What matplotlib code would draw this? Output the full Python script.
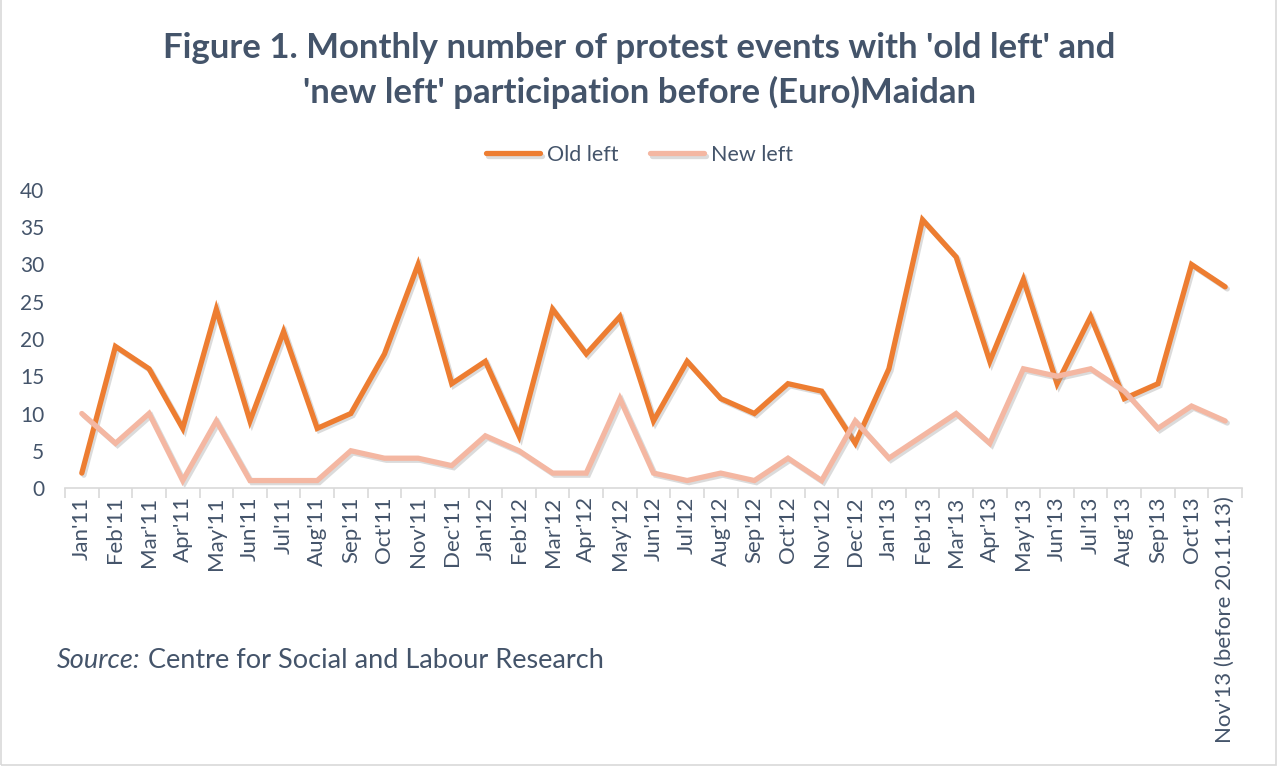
import numpy as np
import matplotlib.pyplot as plt
import matplotlib.patheffects as pe

months = ["Jan'11", "Feb'11", "Mar'11", "Apr'11", "May'11", "Jun'11", "Jul'11", "Aug'11",
          "Sep'11", "Oct'11", "Nov'11", "Dec'11", "Jan'12", "Feb'12", "Mar'12", "Apr'12",
          "May'12", "Jun'12", "Jul'12", "Aug'12", "Sep'12", "Oct'12", "Nov'12", "Dec'12",
          "Jan'13", "Feb'13", "Mar'13", "Apr'13", "May'13", "Jun'13", "Jul'13", "Aug'13",
          "Sep'13", "Oct'13", "Nov'13 (before 20.11.13)"]
old_left = [2, 19, 16, 8, 24, 9, 21, 8, 10, 18, 30, 14, 17, 7, 24, 18, 23, 9, 17, 12,
            10, 14, 13, 6, 16, 36, 31, 17, 28, 14, 23, 12, 14, 30, 27]
new_left = [10, 6, 10, 1, 9, 1, 1, 1, 5, 4, 4, 3, 7, 5, 2, 2, 12, 2, 1, 2,
            1, 4, 1, 9, 4, 7, 10, 6, 16, 15, 16, 13, 8, 11, 9]

TEXT = '#44546A'
AXIS = '#D9D9D9'
plt.rcParams['font.family'] = ['Lato', 'DejaVu Sans']

fig = plt.figure(figsize=(12.79, 7.67), dpi=100)
ax = fig.add_axes([65 / 1279, 1 - 488 / 767, (1242 - 65) / 1279, 298 / 767])

x = np.arange(len(months))
shadow = [pe.SimpleLineShadow(offset=(1.5, -1.5), shadow_color='#999999', alpha=0.35), pe.Normal()]
ax.plot(x, old_left, color='#ED7D31', lw=3.8, solid_joinstyle='miter', solid_capstyle='round',
        label='Old left', path_effects=shadow)
ax.plot(x, new_left, color='#F4B7A2', lw=3.8, solid_joinstyle='miter', solid_capstyle='round',
        label='New left', path_effects=shadow)

ax.set_xlim(-0.5, len(months) - 0.5)
ax.set_ylim(0, 40)
ax.set_yticks(range(0, 41, 5))
ax.set_xticks(x)
ax.set_xticklabels(months, rotation=90)
ax.set_xticks(np.arange(-0.5, len(months), 1), minor=True)
ax.tick_params(axis='x', which='major', length=0, pad=6, labelsize=16, colors=TEXT)
ax.tick_params(axis='x', which='minor', length=7, color=AXIS, width=1.2)
ax.tick_params(axis='y', length=0, pad=15, labelsize=15, colors=TEXT)
for side in ['top', 'right', 'left']:
    ax.spines[side].set_visible(False)
ax.spines['bottom'].set_color(AXIS)
ax.spines['bottom'].set_linewidth(1.2)

fig.text(0.5, 1 - 48 / 767, "Figure 1. Monthly number of protest events with 'old left' and",
         ha='center', va='center', fontsize=25, fontweight='bold', color=TEXT)
fig.text(0.5, 1 - 92 / 767, "'new left' participation before (Euro)Maidan",
         ha='center', va='center', fontsize=25, fontweight='bold', color=TEXT)

fig.legend(loc='center', bbox_to_anchor=(0.5, 1 - 155 / 767), ncol=2, frameon=False,
           fontsize=15.5, labelcolor=TEXT, handlelength=2.5, handletextpad=0.3, columnspacing=1.5)

# source line: italic lead-in followed by the plain text
src = fig.text(57 / 1279, 1 - 660 / 767, 'Source:', fontstyle='italic', fontsize=19.5,
               color=TEXT, va='center', ha='left')
fig.canvas.draw()
bb = src.get_window_extent()
fig.text((bb.x1 + 7) / fig.bbox.width, 1 - 660 / 767, 'Centre for Social and Labour Research',
         fontsize=19.5, color=TEXT, va='center', ha='left')

fig.add_artist(plt.Rectangle((0.001, 0.002), 0.997, 1.2, transform=fig.transFigure,
                             fill=False, edgecolor=AXIS, lw=1.2))

fig.savefig('out.png', dpi=100)
